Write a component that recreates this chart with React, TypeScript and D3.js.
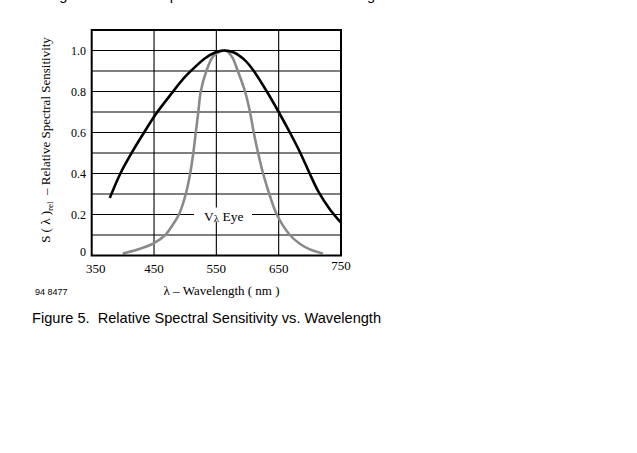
import React from 'react';
import * as d3 from 'd3';

const xTicks = [350, 450, 550, 650, 750];
const xTickLabels = ['350', '450', '550', '650', '750'];
const yTicks = [0, 0.2, 0.4, 0.6, 0.8, 1.0];
const yTickLabels = ['0', '0.2', '0.4', '0.6', '0.8', '1.0'];
const yGrid = [0.1, 0.2, 0.3, 0.4, 0.5, 0.6, 0.7, 0.8, 0.9, 1.0];
const xGrid = [450, 550, 650];

const detectorWavelength = [379, 396, 414, 433, 453, 478, 500, 516, 532, 548, 563, 578, 596, 609, 631, 650, 668, 684, 699, 714, 732, 750];
const detectorValue = [0.28, 0.40, 0.50, 0.595, 0.69, 0.79, 0.872, 0.92, 0.962, 0.99, 1.0, 0.99, 0.952, 0.905, 0.80, 0.70, 0.60, 0.505, 0.405, 0.31, 0.226, 0.16];

const eyeWavelength = [400, 425, 450, 468, 480, 490, 501, 508, 513, 517, 521, 525, 534, 546, 564, 575, 585, 596, 604, 610, 617, 625, 635, 647, 668, 685, 700, 721];
const eyeValue = [0.01, 0.03, 0.06, 0.10, 0.15, 0.20, 0.30, 0.40, 0.50, 0.60, 0.70, 0.80, 0.90, 0.975, 1.0, 0.97, 0.895, 0.80, 0.70, 0.60, 0.50, 0.40, 0.30, 0.20, 0.10, 0.055, 0.03, 0.01];

const seriesLabel = 'Eye';
const xTitle = 'λ – Wavelength ( nm )';
const yTitleMain = '  – Relative Spectral Sensitivity';
const caption = 'Figure 5.  Relative Spectral Sensitivity vs. Wavelength';
const topLine = "Using the detector's spectral curve to match all the light";
const figId = '94 8477';

export default function App() {
  const x = d3.scaleLinear().domain([350, 750]).range([91.7, 341]);
  const y = d3.scaleLinear().domain([0, 1.1]).range([255.5, 30]);
  const line = d3
    .line<[number, number]>()
    .x((d) => x(d[0]))
    .y((d) => y(d[1]))
    .curve(d3.curveCatmullRom.alpha(0.5));
  const detectorPts: [number, number][] = detectorWavelength.map((w, i) => [w, detectorValue[i]]);
  const eyePts: [number, number][] = eyeWavelength.map((w, i) => [w, eyeValue[i]]);
  const serif = '"Liberation Serif", "Times New Roman", serif';
  const sans = '"Liberation Sans", Arial, sans-serif';
  const [x0, x1] = x.range();
  const [yb, yt] = y.range();

  return (
    <svg
      width={637}
      height={453}
      style={{ position: 'absolute', left: 0, top: 0, background: '#fff' }}
    >
      <rect x={0} y={0} width={637} height={453} fill="#fff" />
      <text x={30} y={0} fontFamily={sans} fontSize={14.6} fill="#000">
        {topLine}
      </text>
      {yGrid.map((v) => (
        <line key={'h' + v} x1={x0} x2={x1} y1={y(v)} y2={y(v)} stroke="#000" strokeWidth={1.1} />
      ))}
      {xGrid.map((v) => (
        <line key={'v' + v} x1={x(v)} x2={x(v)} y1={yt} y2={yb} stroke="#000" strokeWidth={1.1} />
      ))}
      <rect x={194} y={y(0.2) - 7} width={58} height={14} fill="#fff" />
      <path d={line(eyePts) || ''} fill="none" stroke="#8a8a8a" strokeWidth={2.6} />
      <path d={line(detectorPts) || ''} fill="none" stroke="#000" strokeWidth={2.6} />
      <rect x={x0} y={yt} width={x1 - x0} height={yb - yt} fill="none" stroke="#000" strokeWidth={2} />
      <text x={x(562)} y={y(0.2) + 6} textAnchor="middle" fontFamily={serif} fontSize={13.5} fill="#000">
        V<tspan fontSize={11} dy={1.5}>λ</tspan>
        <tspan dy={-1.5}> {seriesLabel}</tspan>
      </text>
      {yTicks.map((v, i) => (
        <text
          key={'yl' + v}
          x={86}
          y={v === 0 ? y(v) : y(v) + 4}
          textAnchor="end"
          fontFamily={serif}
          fontSize={12}
          fill="#000"
        >
          {yTickLabels[i]}
        </text>
      ))}
      {xTicks.map((v, i) => (
        <text
          key={'xl' + v}
          x={x(v) + (i === 0 ? 4 : 0)}
          y={i === xTicks.length - 1 ? 270 : 273}
          textAnchor="middle"
          fontFamily={serif}
          fontSize={13}
          fill="#000"
        >
          {xTickLabels[i]}
        </text>
      ))}
      <text x={221.5} y={295} textAnchor="middle" fontFamily={serif} fontSize={13} fill="#000">
        {xTitle}
      </text>
      <text x={35} y={295} fontFamily={sans} fontSize={9} fill="#000">
        {figId}
      </text>
      <text
        transform="translate(50,140) rotate(-90)"
        textAnchor="middle"
        fontFamily={serif}
        fontSize={13}
        fill="#000"
        style={{ whiteSpace: 'pre' }}
      >
        S ( λ )<tspan fontSize={9} dy={3}>rel</tspan>
        <tspan dy={-3}>{yTitleMain}</tspan>
      </text>
      <text x={32} y={323} fontFamily={sans} fontSize={14.6} fill="#000" style={{ whiteSpace: 'pre' }}>
        {caption}
      </text>
    </svg>
  );
}
